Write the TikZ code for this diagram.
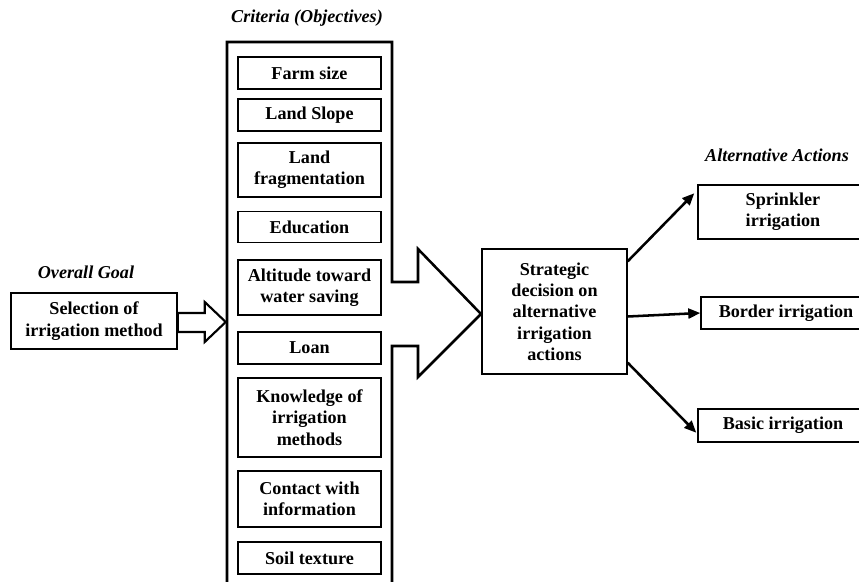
\documentclass[tikz,border=0pt]{standalone}
\usepackage{fontspec}
\setmainfont{Liberation Serif}
\usetikzlibrary{arrows.meta,calc}

\tikzset{
  txt/.style={font=\bfseries\fontsize{13.6}{16}\selectfont, align=center},
  heading/.style={font=\bfseries\itshape\fontsize{13.6}{16}\selectfont, align=center, inner sep=0pt},
  crit/.style={txt, draw, line width=1.1pt, minimum width=143*0.75pt, inner sep=0pt},
  box/.style={txt, draw, line width=1.1pt, inner sep=0pt},
  outline/.style={draw, line width=1.9pt, line join=miter},
  hollow/.style={draw, line width=1.6pt, line join=miter, fill=white},
  conn/.style={line width=1.9pt, -{Triangle[length=9pt,width=7.5pt]}}
}

\begin{document}
\begin{tikzpicture}[x=0.75pt,y=-0.75pt]
  \useasboundingbox (0,0) rectangle (859,581);
  \clip (0,0) rectangle (859,581);

  % headings
  \node[heading] (hgoal) at (86,272) {Overall Goal};
  \node[heading] (hcrit) at (307,18) {Criteria (Objectives)};
  \node[heading] (halt)  at (777,155) {Alternative Actions};

  % overall goal
  \node[box, minimum width=166*0.75pt, minimum height=56*0.75pt] (goal) at (94,321)
    {Selection of\\irrigation method};

  % hollow arrow from the goal into the criteria column
  \coordinate (ga) at (goal.east);
  \path[hollow] ($(ga)+(0,-8)$) -- ($(ga)+(27,-8)$) -- ($(ga)+(27,-19)$)
    -- ($(ga)+(48,1)$) -- ($(ga)+(27,21)$) -- ($(ga)+(27,11)$)
    -- ($(ga)+(0,11)$) -- cycle;

  % criteria column merging into a big arrow
  \path[outline] (227,600) -- (227,42) -- (392,42) -- (392,282) -- (418,282)
    -- (418,249) -- (481,314) -- (418,377) -- (418,346) -- (392,346)
    -- (392,600);

  % criteria
  \node[crit, minimum height=32*0.75pt] (c1) at (309.5,73)    {Farm size};
  \node[crit, minimum height=32*0.75pt] (c2) at (309.5,115)   {Land Slope};
  \node[crit, minimum height=54*0.75pt] (c3) at (309.5,170)   {Land\\fragmentation};
  \node[crit, minimum height=31*0.75pt] (c4) at (309.5,227)   {Education};
  \node[crit, minimum height=55*0.75pt] (c5) at (309.5,287.5) {Altitude toward\\water saving};
  \node[crit, minimum height=32*0.75pt] (c6) at (309.5,348)   {Loan};
  \node[crit, minimum height=79*0.75pt] (c7) at (309.5,417.5) {Knowledge of\\irrigation\\methods};
  \node[crit, minimum height=56*0.75pt] (c8) at (309.5,499)   {Contact with\\information};
  \node[crit, minimum height=32*0.75pt] (c9) at (309.5,558)   {Soil texture};

  % strategic decision
  \node[box, minimum width=145*0.75pt, minimum height=125*0.75pt] (strat) at (554.5,311.5)
    {Strategic\\decision on\\alternative\\irrigation\\actions};

  % alternatives
  \node[box, minimum width=170*0.75pt, minimum height=54*0.75pt] (spr)   at (783,212)   {Sprinkler\\irrigation};
  \node[box, minimum width=170*0.75pt, minimum height=32*0.75pt] (bord)  at (786,313)   {Border irrigation};
  \node[box, minimum width=170*0.75pt, minimum height=33*0.75pt] (basic) at (783,425.5) {Basic irrigation};

  % connectors
  \draw[conn] ($(strat.north east)+(0,13)$) -- ($(spr.north west)+(-3,9)$);
  \draw[conn] ($(strat.east)+(0,5)$) -- (bord.west);
  \draw[conn] ($(strat.south east)+(0,-12)$) -- ($(basic.south west)+(-1,-10)$);
\end{tikzpicture}
\end{document}
